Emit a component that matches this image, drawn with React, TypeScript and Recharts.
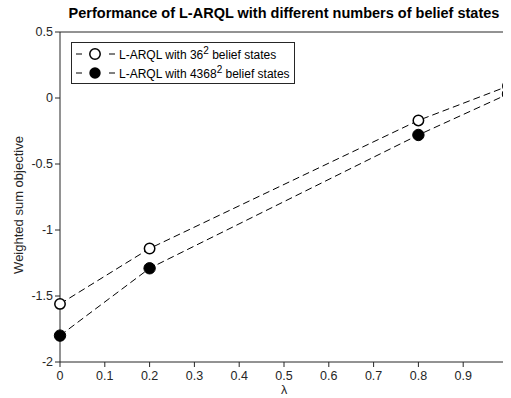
import React from "react";
import { LineChart, Line, XAxis, YAxis, ReferenceLine } from "recharts";

// lambda values on the x axis
const lambdas = [0, 0.2, 0.8, 1];
// weighted sum objective, 36^2 belief states (open markers)
const small = [-1.56, -1.14, -0.17, 0.09];
// weighted sum objective, 4368^2 belief states (filled markers)
const large = [-1.8, -1.29, -0.28, 0.03];

const xTicks = [0, 0.1, 0.2, 0.3, 0.4, 0.5, 0.6, 0.7, 0.8, 0.9, 1];
const yTicks = [-2, -1.5, -1, -0.5, 0, 0.5];

const data = lambdas.map((l, i) => ({ lambda: l, small: small[i], large: large[i] }));

const FONT = "'Liberation Sans', Arial, Helvetica, sans-serif";
const TEXT = "#262626";
const LINE = "#262626";
const FS = 12.5;

const OpenDot = (p: any) => (
    <circle cx={p.cx} cy={p.cy} r={5.2} fill="#fff" stroke="#000" strokeWidth={1.5} />
);
const FilledDot = (p: any) => (
    <circle cx={p.cx} cy={p.cy} r={5.7} fill="#000" stroke="#000" strokeWidth={1} />
);

const LegendRow = ({ filled, label }: { filled: boolean; label: string }) => (
    <div style={{ display: "flex", alignItems: "center", height: 19 }}>
        <svg width={44} height={16} style={{ marginLeft: 3 }}>
            <line x1={1} y1={8} x2={7} y2={8} stroke="#000" />
            <line x1={34} y1={8} x2={40} y2={8} stroke="#000" />
            {filled ? (
                <circle cx={20} cy={8} r={5.7} fill="#000" />
            ) : (
                <circle cx={20} cy={8} r={5.2} fill="#fff" stroke="#000" strokeWidth={1.5} />
            )}
        </svg>
        <span>
            L-ARQL with {label}
            <sup style={{ fontSize: 10, verticalAlign: 5 }}>2</sup> belief states
        </span>
    </div>
);

export default function App() {
    // plain wrapper (sits at the 8px body margin), like the test chart whose axes did draw
    return (
        <div style={{ width: 503, height: 390, fontFamily: FONT }}>
            <div
                style={{
                    position: "absolute",
                    left: 60,
                    width: 448,
                    top: 5,
                    textAlign: "center",
                    fontWeight: "bold",
                    fontSize: 14.5,
                    color: "#000",
                    whiteSpace: "nowrap",
                }}
            >
                Performance of L-ARQL with different numbers of belief states
            </div>
            <LineChart width={503} height={390} data={data} margin={{ top: 24, right: 3, bottom: 0, left: 2 }}>
                <XAxis
                    dataKey="lambda"
                    type="number"
                    domain={[0, 1]}
                    ticks={xTicks}
                    height={36}
                    stroke={LINE}
                    tickSize={5}
                    tickMargin={4}
                    tick={{ fill: TEXT, fontSize: FS, fontFamily: FONT }}
                    label={{ value: "λ", position: "insideBottom", offset: 4, fill: TEXT, fontSize: FS, fontFamily: FONT }}
                />
                <YAxis
                    domain={[-2, 0.5]}
                    ticks={yTicks}
                    width={50}
                    stroke={LINE}
                    tickSize={5}
                    tickMargin={2}
                    tick={{ fill: TEXT, fontSize: FS, fontFamily: FONT }}
                    label={{
                        content: () => (
                            <text
                                transform="translate(15,197) rotate(-90)"
                                textAnchor="middle"
                                fill={TEXT}
                                fontSize={13}
                                fontFamily={FONT}
                            >
                                Weighted sum objective
                            </text>
                        ),
                    }}
                />
                {/* box: top and right borders */}
                <ReferenceLine y={0.5} stroke={LINE} />
                <ReferenceLine x={1} stroke={LINE} />
                <Line
                    dataKey="small"
                    stroke="#000"
                    strokeWidth={1}
                    strokeDasharray="7 4"
                    type="linear"
                    dot={<OpenDot />}
                    isAnimationActive={false}
                />
                <Line
                    dataKey="large"
                    stroke="#000"
                    strokeWidth={1}
                    strokeDasharray="7 4"
                    type="linear"
                    dot={<FilledDot />}
                    isAnimationActive={false}
                />
            </LineChart>
            <div
                style={{
                    position: "absolute",
                    left: 71,
                    top: 42,
                    width: 222,
                    height: 39,
                    border: `1px solid ${LINE}`,
                    background: "#fff",
                    fontSize: 12,
                    color: "#000",
                    paddingTop: 1,
                    boxSizing: "content-box",
                }}
            >
                <LegendRow filled={false} label="36" />
                <LegendRow filled={true} label="4368" />
            </div>
        </div>
    );
}
